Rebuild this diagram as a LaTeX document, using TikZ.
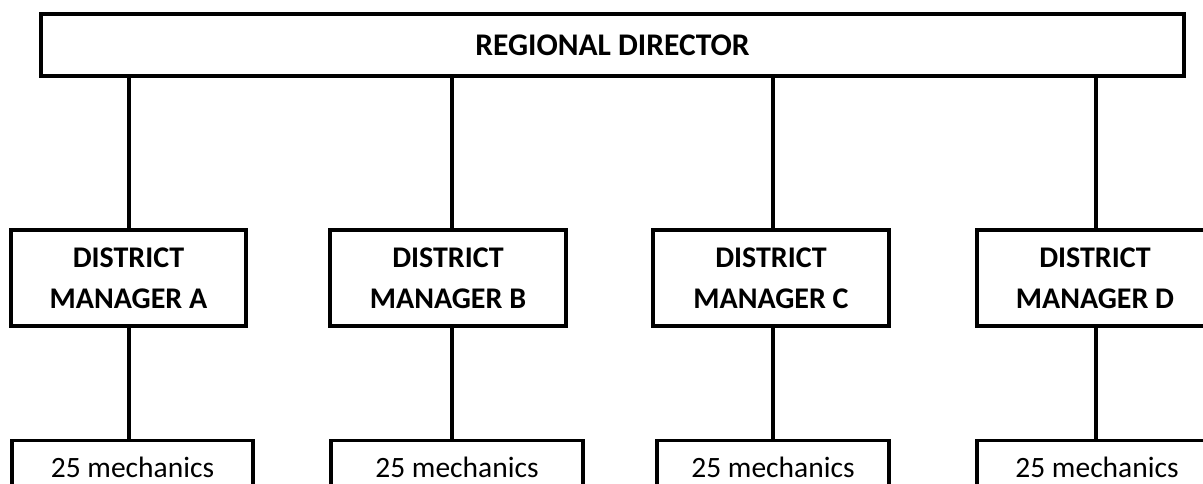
\documentclass[tikz,border=0pt]{standalone}
\usepackage{fontspec}
\setmainfont{Carlito}
\begin{document}
\begin{tikzpicture}[x=1pt,y=-1pt,
  box/.style={draw=black,line width=3.2pt,fill=white,inner sep=0pt,align=center},
  headbox/.style={box,font=\fontsize{30}{41}\selectfont\bfseries},
  crewbox/.style={box,font=\fontsize{29.5}{36}\selectfont,anchor=north,minimum height=54pt},
  link/.style={draw=black,line width=3.2pt}]
\path[use as bounding box] (0,0) rectangle (1203,484);
\clip (0,0) rectangle (1203,484);
% top
\node[headbox,font=\fontsize{31.5}{41}\selectfont\bfseries,minimum width=1143pt,minimum height=62pt] (top) at (612.5,45) {REGIONAL DIRECTOR};
% district managers
\node[headbox,minimum width=235pt,minimum height=96pt] (dmA) at (128.5,278) {DISTRICT\\MANAGER A};
\node[headbox,minimum width=236pt,minimum height=96pt] (dmB) at (448,278) {DISTRICT\\MANAGER B};
\node[headbox,minimum width=236pt,minimum height=96pt] (dmC) at (771,278) {DISTRICT\\MANAGER C};
\node[headbox,minimum width=236pt,minimum height=96pt] (dmD) at (1095,278) {DISTRICT\\MANAGER D};
% mechanics
\node[crewbox,minimum width=241pt] (mA) at (132.5,439) {25 mechanics};
\node[crewbox,minimum width=252pt] (mB) at (457,439) {25 mechanics};
\node[crewbox,minimum width=232pt] (mC) at (773,439) {25 mechanics};
\node[crewbox,minimum width=240pt] (mD) at (1097,439) {25 mechanics};
% line positions
\coordinate (lA) at (129,0);
\coordinate (lB) at (452,0);
\coordinate (lC) at (773,0);
\coordinate (lD) at (1096,0);
% connectors
\foreach \k in {A,B,C,D}{
  \draw[link] (top.south -| l\k) -- (dm\k.north -| l\k);
  \draw[link] (dm\k.south -| l\k) -- (m\k.north -| l\k);
}
\end{tikzpicture}
\end{document}
